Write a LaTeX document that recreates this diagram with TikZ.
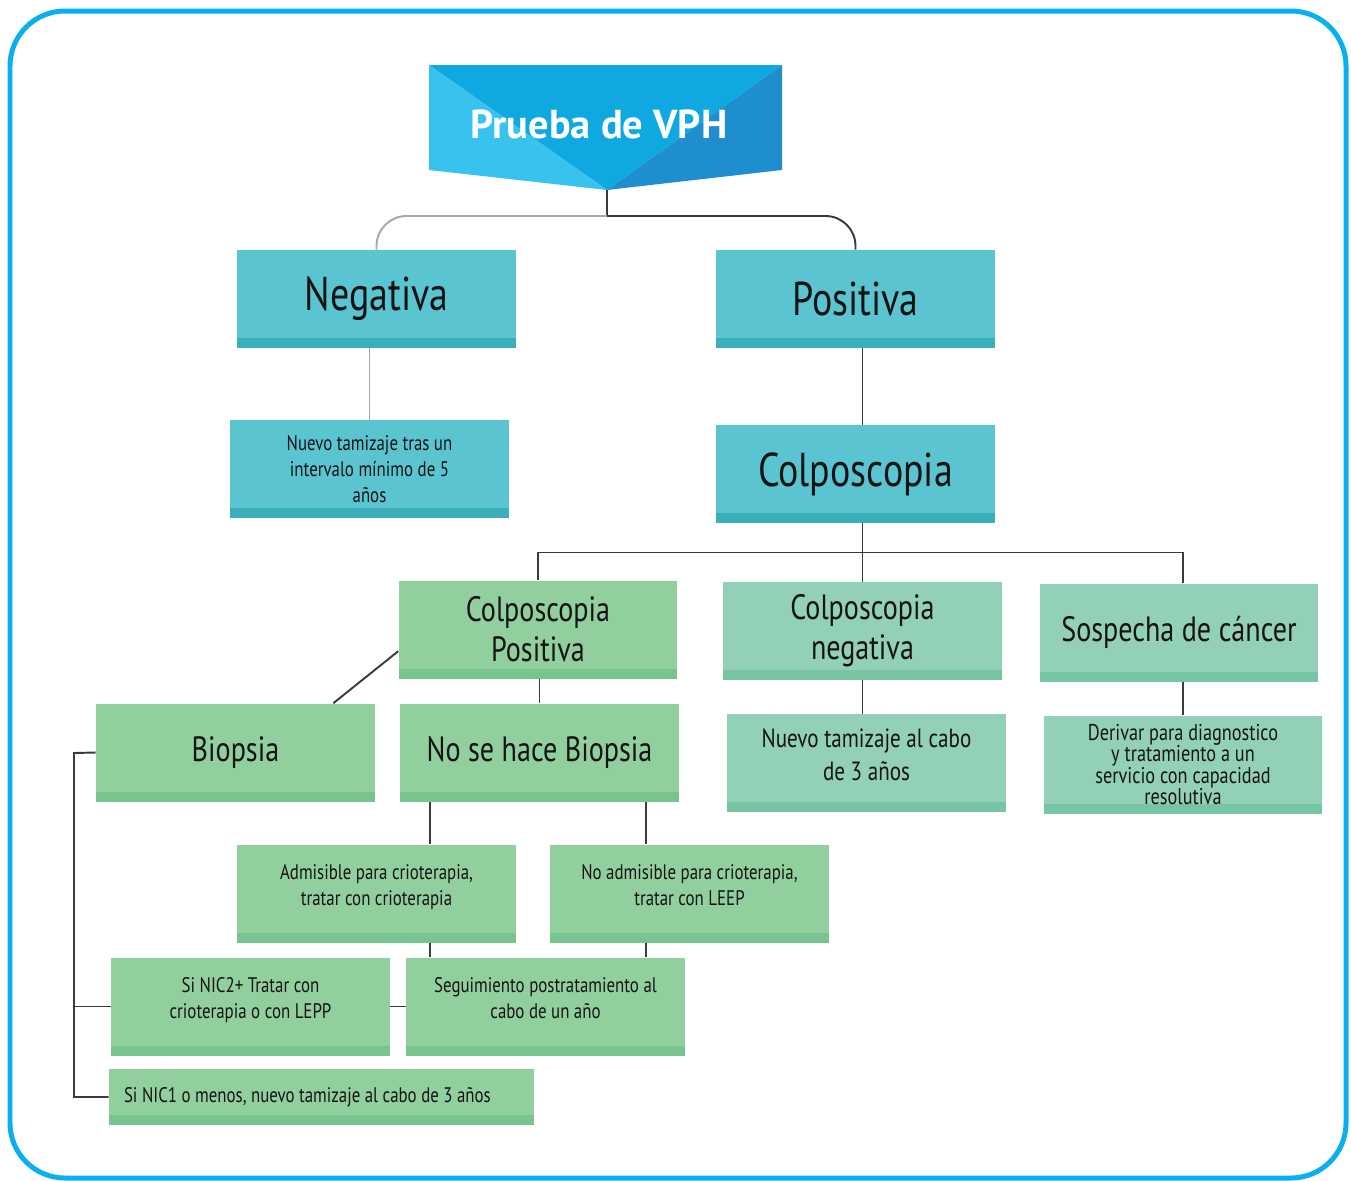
\documentclass[tikz,border=0pt]{standalone}
\usepackage{fontspec}
\setmainfont[FakeStretch=0.8]{PT Sans}
\newfontfamily\titlefont{PT Sans}
\usetikzlibrary{calc}

\definecolor{marco}{HTML}{0AAFEF}
\definecolor{vphA}{HTML}{38C3EE}
\definecolor{vphB}{HTML}{10A8E0}
\definecolor{vphC}{HTML}{1F8ECE}
\definecolor{turq}{HTML}{5BC4D1}
\definecolor{turqD}{HTML}{3AAFB9}
\definecolor{verde}{HTML}{92CF9F}
\definecolor{verdeD}{HTML}{77C48E}
\definecolor{menta}{HTML}{92D1B7}
\definecolor{mentaD}{HTML}{77C5A3}
\definecolor{linea}{HTML}{3A3A3A}
\definecolor{lineagris}{HTML}{A3A9AE}
\definecolor{letra}{HTML}{141414}

\tikzset{
	caja/.style 2 args={
			draw=none, fill=#1, text=letra, minimum width=5.58cm, minimum height=1.96cm,
			inner sep=0pt, align=center,
			path picture={\fill[#2] (path picture bounding box.south west) rectangle ([yshift=0.2cm]path picture bounding box.south east);}
		},
	tcaja/.style={caja={turq}{turqD}},
	vcaja/.style={caja={verde}{verdeD}},
	mcaja/.style={caja={menta}{mentaD}},
	grande/.style={font=\fontsize{27}{30}\selectfont},
	medio/.style={font=\fontsize{20}{22.7}\selectfont},
	chico/.style={font=\fontsize{12}{14.7}\selectfont},
	subir/.style={text depth=0.34cm},
	con/.style={draw=linea, line width=1.1pt},
	congris/.style={draw=lineagris, line width=1.1pt}
}

\begin{document}
\begin{tikzpicture}[x=0.02cm,y=-0.02cm]
	\useasboundingbox (0,0) rectangle (1351,1180);

	% marco
	\draw[marco, line width=0.1cm, rounded corners=1.1cm] (10,11) rectangle (1346,1178);

	% encabezado
	\fill[vphB] (429,65) -- (782,65) -- (607,190) -- cycle;
	\fill[vphA] (429,65) -- (607,190) -- (429,170) -- cycle;
	\fill[vphC] (782,65) -- (782,170) -- (607,190) -- cycle;
	\node[text=white, font=\titlefont\bfseries\fontsize{23}{26}\selectfont] (vph) at (599,124) {Prueba de VPH};
	\coordinate (vphtip) at (607,190);
	\coordinate (split) at (607,216);

	% resultado de la prueba
	\node[tcaja, grande] (neg) at (376.5,299) {Negativa};
	\node[tcaja, grande] (pos) at (855.5,299) {Positiva};
	\node[tcaja, chico] (nuevo5) at (369.5,469) {Nuevo tamizaje tras un\\intervalo mínimo de 5\\años};
	\node[tcaja, grande] (colpo) at (855.5,474) {Colposcopia};

	% colposcopia
	\node[vcaja, medio] (cpos) at (538,629.5) {Colposcopia\\Positiva};
	\node[mcaja, medio] (cneg) at (862.5,631) {Colposcopia\\negativa};
	\node[mcaja, medio] (sosp) at (1179,632.5) {Sospecha de cáncer};
	\node[mcaja, subir, font=\fontsize{15}{18.7}\selectfont] (nuevo3) at (866.5,763) {Nuevo tamizaje al cabo\\de 3 años};
	\node[mcaja, font=\fontsize{13}{12}\selectfont] (derivar) at (1183,764.5) {Derivar para diagnostico\\y tratamiento a un\\servicio con capacidad\\resolutiva};

	% biopsia
	\node[vcaja, medio] (biopsia) at (235.5,752.5) {Biopsia};
	\node[vcaja, medio] (nobiop) at (539.5,752.5) {No se hace Biopsia};
	\node[vcaja, chico, subir] (admis) at (376.5,893.5) {Admisible para crioterapia,\\tratar con crioterapia};
	\node[vcaja, chico, subir] (noadmis) at (689.5,893.5) {No admisible para crioterapia,\\tratar con LEEP};
	\node[vcaja, chico, subir] (segui) at (545.5,1006.5) {Seguimiento postratamiento al\\cabo de un año};
	\node[vcaja, chico, subir] (nic2) at (250.5,1006.5) {Si NIC2+ Tratar con\\crioterapia o con LEPP};
	\node[vcaja, chico, minimum width=8.5cm, minimum height=1.12cm, text width=7.9cm, align=flush left] (nic1) at (321.5,1097) {Si NIC1 o menos, nuevo tamizaje al cabo de 3 años};

	% conectores
	\draw[con] (vphtip) -- (split);
	\draw[congris, rounded corners=0.6cm] (split) -| (neg.north);
	\draw[con, rounded corners=0.6cm] (split) -| (pos.north);
	\draw[congris] (nuevo5.north |- neg.south) -- (nuevo5.north);
	\draw[con] (cneg.north |- pos.south) -- (cneg.north |- colpo.north);
	\draw[con] (cneg.north |- colpo.south) -- (cneg.north);
	\coordinate (bus) at ($(colpo.south)!0.5!(cneg.north)$);
	\draw[con] (cpos.north) |- (bus) -| (sosp.north -| derivar.north);
	\draw[con] (cneg.south) -- (cneg.south |- nuevo3.north);
	\draw[con] (derivar.north |- sosp.south) -- (derivar.north);
	\draw[con] ($(cpos.south west)!0.28!(cpos.north west)$) -- ($(biopsia.north west)!0.85!(biopsia.north east)$);
	\draw[con] (nobiop.north |- cpos.south) -- (nobiop.north);
	\draw[con] ($(nobiop.south west)!0.11!(nobiop.south east)$) coordinate (izq) -- (izq |- admis.north);
	\draw[con] ($(nobiop.south west)!0.88!(nobiop.south east)$) coordinate (der) -- (der |- noadmis.north);
	\draw[con] (izq |- admis.south) -- (izq |- segui.north);
	\draw[con] (der |- noadmis.south) -- (der |- segui.north);
	\draw[con] (nic2.east) -- (segui.west);
	\coordinate (brk) at (74,753);
	\draw[con] (biopsia.west) -- (brk) |- (nic1.west);
	\draw[con] (nic2.west) -- (nic2.west -| brk);
\end{tikzpicture}
\end{document}
